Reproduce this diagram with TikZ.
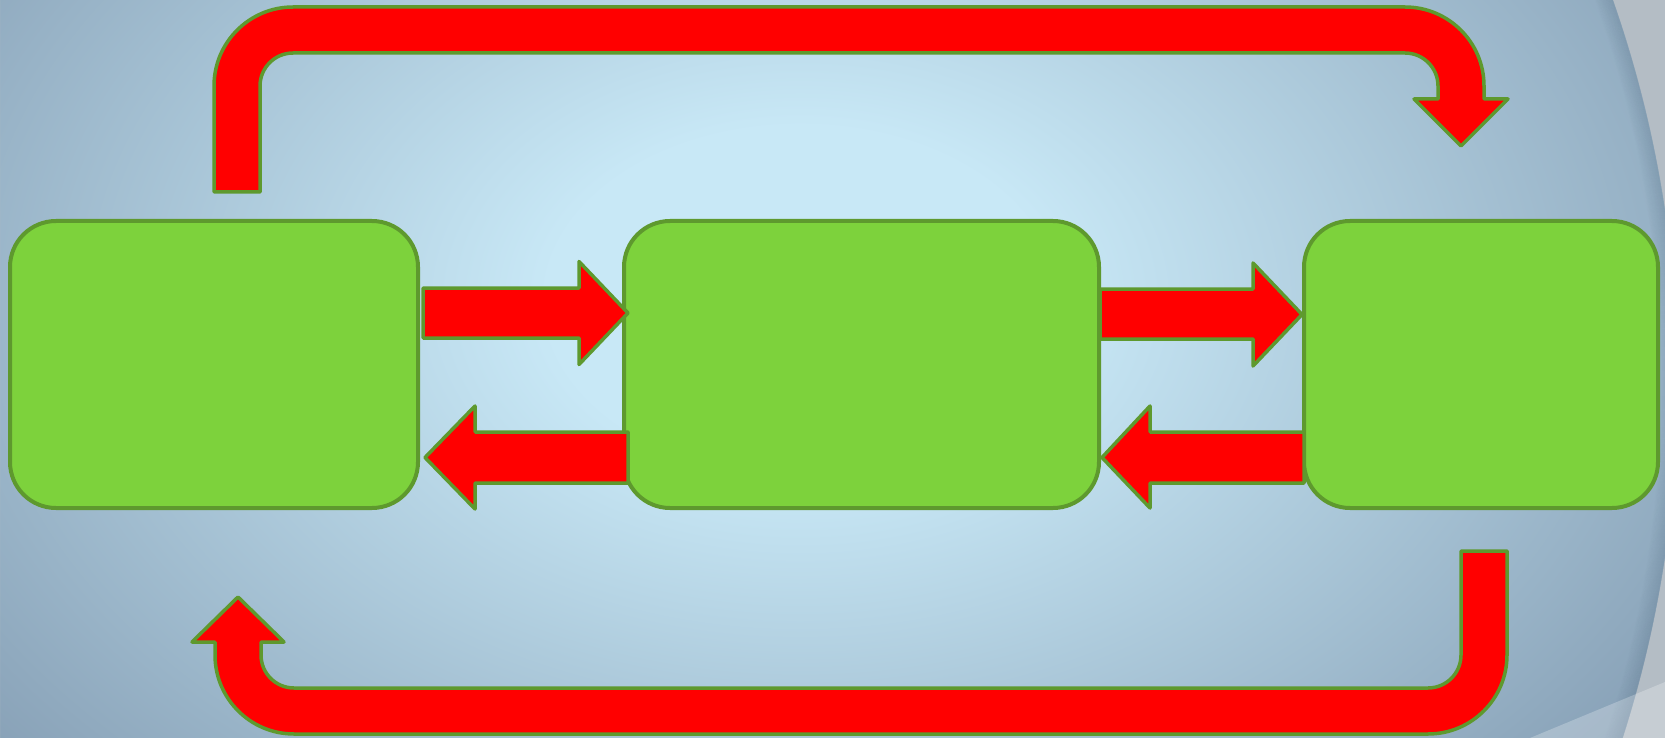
\documentclass[tikz,border=0pt]{standalone}
\usetikzlibrary{calc}
\definecolor{bgin}{RGB}{200,232,246}
\definecolor{bgout}{RGB}{135,160,182}
\definecolor{boxfill}{RGB}{125,210,60}
\definecolor{boxline}{RGB}{94,153,46}
\definecolor{outgrey}{RGB}{180,189,197}
\definecolor{edgeshadow}{RGB}{85,110,132}
\pgfdeclareradialshading{bgshade}{\pgfpoint{0bp}{0bp}}{color(0bp)=(bgin); color(6bp)=(bgin); color(25bp)=(bgout); color(50bp)=(bgout)}
\begin{document}
\begin{tikzpicture}[x=1pt,y=1pt,
  box/.style={draw=boxline, fill=boxfill, line width=4pt, rounded corners=46pt, inner sep=0pt, outer sep=0pt},
  barrow/.style={draw=boxline, fill=red, line width=3.5pt, line join=round}]
\useasboundingbox (0,0) rectangle (1665,-738);
\begin{scope}
  \clip (0,0) rectangle (1665,-738);
  \fill[bgout] (0,0) rectangle (1665,-738);
  \shade[shading=bgshade] (800,-300) ellipse[x radius=1050, y radius=720];
  \fill[outgrey, even odd rule] (0,0) rectangle (1665,-738) (519,-383.5) circle[radius=1159];
  \foreach \d in {0,...,16}
    \draw[edgeshadow, opacity={0.22*(1-\d/17)}, line width=1.2pt] (519,-383.5) circle[radius=1158.4-\d];
  \fill[white, opacity=0.25] (1530,-738) -- (1665,-682) -- (1665,-738) -- cycle;
\end{scope}

% boxes
\node[box, minimum width=408pt, minimum height=287pt] (L) at (214,-364.5) {};
\node[box, minimum width=475pt, minimum height=287pt] (M) at (861.5,-364.5) {};
\node[box, minimum width=354pt, minimum height=287pt] (R) at (1481,-364.5) {};

% L -> M
\draw[barrow] let \p1=(L.east), \p2=(M.west) in
  (\x1+5pt,-288pt) -- (\x2-45pt,-288pt) -- (\x2-45pt,-261.5pt) -- (\x2+4pt,-313pt)
  -- (\x2-45pt,-364.5pt) -- (\x2-45pt,-338pt) -- (\x1+5pt,-338pt) -- cycle;
% M -> L
\draw[barrow] let \p1=(L.east), \p2=(M.west) in
  (\x2+4pt,-432pt) -- (\x1+57pt,-432pt) -- (\x1+57pt,-406pt) -- (\x1+7pt,-457.5pt)
  -- (\x1+57pt,-509pt) -- (\x1+57pt,-483pt) -- (\x2+4pt,-483pt) -- cycle;
% M -> R
\draw[barrow] let \p1=(M.east), \p2=(R.west) in
  (\x1+1pt,-289pt) -- (\x2-51pt,-289pt) -- (\x2-51pt,-263pt) -- (\x2-2pt,-314.5pt)
  -- (\x2-51pt,-366pt) -- (\x2-51pt,-339pt) -- (\x1+1pt,-339pt) -- cycle;
% R -> M
\draw[barrow] let \p1=(M.east), \p2=(R.west) in
  (\x2,-432pt) -- (\x1+51pt,-432pt) -- (\x1+51pt,-406pt) -- (\x1+3pt,-457.5pt)
  -- (\x1+51pt,-508pt) -- (\x1+51pt,-483pt) -- (\x2,-483pt) -- cycle;

% top: L -> R
\draw[barrow] let \p1=(L.north), \p2=(R.north) in
  (\x1,-192pt) -- (\x1,-86pt) arc[start angle=180,end angle=90,radius=79pt]
  -- (\x2-76pt,-7pt) arc[start angle=90,end angle=0,radius=79pt]
  -- (\x2+3pt,-99pt) -- (\x2+27pt,-99pt) -- (\x2-20pt,-146pt) -- (\x2-67pt,-99pt) -- (\x2-43pt,-99pt)
  -- (\x2-43pt,-86pt) arc[start angle=0,end angle=90,radius=33pt]
  -- (\x1+79pt,-53pt) arc[start angle=90,end angle=180,radius=33pt]
  -- (\x1+46pt,-192pt) -- cycle;

% bottom: R -> L
\draw[barrow] let \p1=(L.south), \p2=(R.south) in
  (\x2+26pt,-551pt) -- (\x2+26pt,-655pt) arc[start angle=0,end angle=-90,radius=79pt]
  -- (\x1+80pt,-734pt) arc[start angle=270,end angle=180,radius=79pt]
  -- (\x1+1pt,-642pt) -- (\x1-22pt,-642pt) -- (\x1+24pt,-597pt) -- (\x1+70pt,-642pt) -- (\x1+47pt,-642pt)
  -- (\x1+47pt,-655pt) arc[start angle=180,end angle=270,radius=33pt]
  -- (\x2-53pt,-688pt) arc[start angle=-90,end angle=0,radius=33pt]
  -- (\x2-20pt,-551pt) -- cycle;
\end{tikzpicture}
\end{document}
